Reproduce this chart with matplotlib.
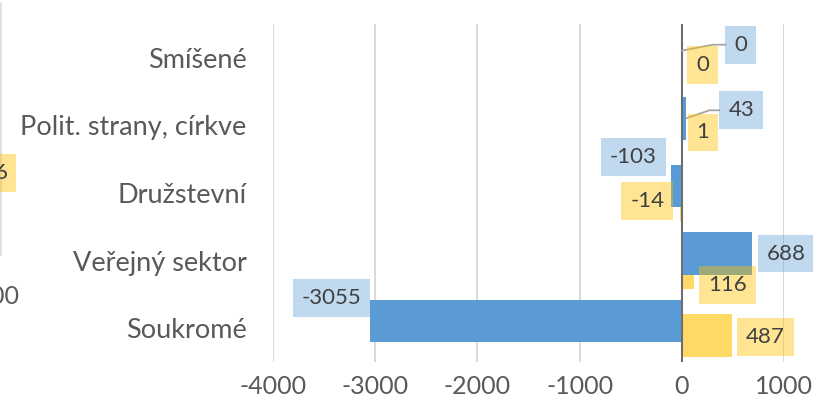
import matplotlib.pyplot as plt
import numpy as np

# data
categories = ["Soukromé", "Veřejný sektor", "Družstevní", "Polit. strany, církve", "Smíšené"]
blue_vals = [-3055, 688, -103, 43, 0]
yellow_vals = [487, 116, -14, 1, 0]

# label offsets in pixels from bar end (dx, dy up)
blue_off = [(-38, 23), (34, 0), (-38, 29), (55, 8), (59, 6)]
yellow_off = [(34, -2), (34, -17), (-33, -1), (21, 0), (21, 0)]

plt.rcParams['font.family'] = ['Lato', 'DejaVu Sans']
plt.rcParams['axes.unicode_minus'] = False
txt = '#595959'
blue = '#5B9BD5'
yellow = '#FFD966'
lab_size = 16

fig = plt.figure(figsize=(8.13, 4.07), dpi=100)
ax = fig.add_axes([273/813, 1 - 362/407, (784 - 273)/813, (362 - 24)/407])

y = np.arange(len(categories))
h = 0.63
ax.barh(y - 0.105, yellow_vals, height=h, color=yellow, zorder=2)
ax.barh(y + 0.105, blue_vals, height=h, color=blue, zorder=3)

ax.set_xlim(-4000, 1000)
ax.set_ylim(-0.5, 4.5)
ax.set_xticks(np.arange(-4000, 1001, 1000))
ax.set_yticks(y)
ax.set_yticklabels(categories)
ax.tick_params(axis='both', length=0, colors=txt)
ax.tick_params(axis='y', pad=19, labelsize=19.5)
ax.tick_params(axis='x', pad=9, labelsize=18)
ax.grid(axis='x', color='#D9D9D9', linewidth=1.4, zorder=0)
for s in ax.spines.values():
    s.set_visible(False)
ax.axvline(0, color='#6E6E6E', linewidth=1.5, zorder=4)

px = 72 / fig.dpi
for i in range(len(categories)):
    for vals, off, dy0, col, leader in [
        (blue_vals, blue_off, 0.105, blue, i >= 3),
        (yellow_vals, yellow_off, -0.105, '#FFC000', False),
    ]:
        dx, dy = off[i]
        kw = {}
        if leader:
            kw['arrowprops'] = dict(arrowstyle='-', color='#A6A6A6', lw=1.3,
                                    shrinkA=0, shrinkB=0, relpos=(0, 0.5),
                                    connectionstyle='angle,angleA=0,angleB=%d,rad=0' % (11 if i == 4 else 19))
        ax.annotate(str(vals[i]), xy=(vals[i], y[i] + dy0), xytext=(dx * px, dy * px),
                    textcoords='offset points', ha='center', va='center', fontsize=lab_size, color='#404040',
                    bbox=dict(boxstyle='square,pad=0.4', fc=col, ec='none', alpha=0.38 if col == blue else 0.42),
                    zorder=5, annotation_clip=False, **kw)

# pieces of neighbouring chart cut in at the left edge
fig.add_artist(plt.Line2D([1/813, 1/813], [1 - 3/407, 1 - 255/407], color='#D9D9D9', lw=1.2))
fig.text(7.5/813, 1 - 173/407, "6", ha='right', va='center', fontsize=lab_size, color='#404040',
         bbox=dict(boxstyle='square,pad=0.4', fc='#FFC000', ec='none', alpha=0.42))
fig.text(20/813, 1 - 297/407, "1000", ha='right', va='center', fontsize=18, color=txt)

fig.savefig("out.png", dpi=100)
